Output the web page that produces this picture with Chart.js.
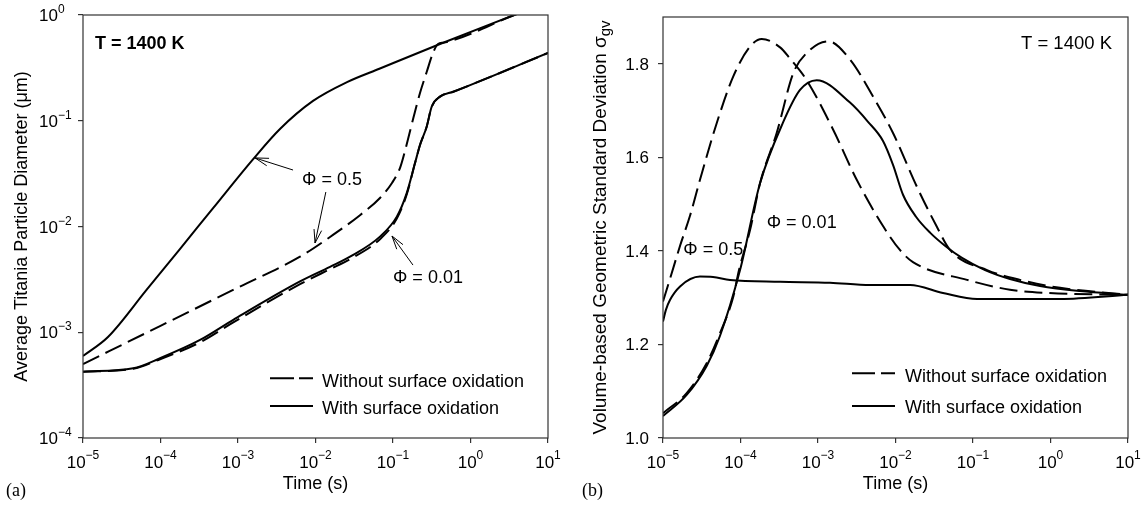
<!DOCTYPE html>
<html><head><meta charset="utf-8">
<script src="https://cdn.jsdelivr.net/npm/chart.js@4.4.0/dist/chart.umd.min.js"></script>
<style>
html,body{margin:0;padding:0;background:#fff;}
#wrap{position:relative;width:1147px;height:508px;overflow:hidden;}
.box{position:absolute;top:0;height:508px;}
#boxA{left:0;width:574px;}
#boxB{left:574px;width:573px;}
canvas{display:block;}
</style></head><body>
<div id="wrap">
<div class="box" id="boxA"><canvas id="cA" width="574" height="508" style="width:574px;height:508px"></canvas></div>
<div class="box" id="boxB"><canvas id="cB" width="573" height="508" style="width:573px;height:508px"></canvas></div>
</div>
<script>
// ---------- tick labels ----------
const timeTicks = [1e-5, 1e-4, 1e-3, 1e-2, 1e-1, 1, 10];
const timeTickExps = ['\u22125','\u22124','\u22123','\u22122','\u22121','0','1'];
const diamTicks = [1e-4, 1e-3, 1e-2, 1e-1, 1];
const diamTickExps = ['\u22124','\u22123','\u22122','\u22121','0'];
const sigmaTicks = [1.0, 1.2, 1.4, 1.6, 1.8];
const sigmaTickLabels = ['1.0','1.2','1.4','1.6','1.8'];

// ---------- (a) average particle diameter (um) vs time (s) ----------
// with surface oxidation, phi = 0.5
const tA_w05 = [1e-5, 2.10e-5, 6.64e-5, 1.79e-4, 4.80e-4, 1.57e-3, 3.48e-3, 9.29e-3, 2.55e-2, 6.79e-2, 0.404, 3.53, 10];
const dA_w05 = [5.96e-4, 9.02e-4, 2.53e-3, 6.15e-3, 1.50e-2, 4.34e-2, 8.36e-2, 0.154, 0.232, 0.312, 0.532, 0.989, 1.33];
// without surface oxidation, phi = 0.5
const tA_wo05 = [1e-5, 1e-4, 1e-3, 6.31e-3, 1.54e-2, 3.75e-2, 6.79e-2, 9.70e-2, 0.123, 0.146, 0.183, 0.223, 0.272, 0.328, 0.381, 0.451, 3.53, 10];
const dA_wo05 = [5.0e-4, 1.15e-3, 2.65e-3, 5.18e-3, 7.96e-3, 1.28e-2, 1.86e-2, 2.58e-2, 3.57e-2, 5.52e-2, 0.106, 0.183, 0.289, 0.437, 0.532, 0.548, 0.989, 1.33];
// with surface oxidation, phi = 0.01
const tA_w001 = [1e-5, 4.45e-5, 9.86e-5, 3.24e-4, 8.69e-4, 6.31e-3, 1.54e-2, 2.79e-2, 6.79e-2, 0.112, 0.150, 0.192, 0.223, 0.272, 0.316, 0.404, 0.600, 10];
const dA_w001 = [4.24e-4, 4.56e-4, 5.68e-4, 8.45e-4, 1.31e-3, 3.02e-3, 4.15e-3, 5.18e-3, 8.02e-3, 1.24e-2, 2.06e-2, 3.96e-2, 5.90e-2, 8.79e-2, 0.136, 0.169, 0.188, 0.437];
// without surface oxidation, phi = 0.01
const tA_wo001 = [1e-5, 4.45e-5, 9.86e-5, 3.24e-4, 8.69e-4, 6.31e-3, 1.54e-2, 2.79e-2, 6.79e-2, 0.112, 0.150, 0.192, 0.223, 0.272, 0.316, 0.404, 0.600, 10];
const dA_wo001 = [4.24e-4, 4.52e-4, 5.56e-4, 8.04e-4, 1.24e-3, 2.85e-3, 3.95e-3, 4.90e-3, 7.59e-3, 1.19e-2, 2.00e-2, 3.96e-2, 5.90e-2, 8.79e-2, 0.136, 0.169, 0.188, 0.437];

// ---------- (b) volume-based geometric standard deviation vs time (s) ----------
const tB_wo05 = [1e-5, 1.23e-5, 1.66e-5, 2.23e-5, 3.00e-5, 4.93e-5, 8.07e-5, 1.33e-4, 1.88e-4, 3.24e-4, 4.36e-4, 7.14e-4, 1.57e-3, 3.16e-3, 6.97e-3, 1.14e-2, 1.68e-2, 8.38e-2, 0.300, 0.902, 10];
const sB_wo05 = [1.292, 1.340, 1.411, 1.475, 1.552, 1.673, 1.773, 1.837, 1.853, 1.835, 1.811, 1.765, 1.659, 1.552, 1.452, 1.402, 1.376, 1.338, 1.317, 1.310, 1.306];
const tB_wo001 = [1e-5, 2.02e-5, 3.66e-5, 5.43e-5, 8.07e-5, 9.57e-5, 1.33e-4, 1.79e-4, 2.93e-4, 4.80e-4, 7.14e-4, 1.36e-3, 2.59e-3, 5.13e-3, 9.29e-3, 1.89e-2, 3.43e-2, 5.05e-2, 0.152, 0.404, 1.33, 10];
const sB_wo001 = [1.053, 1.096, 1.160, 1.224, 1.302, 1.359, 1.445, 1.545, 1.652, 1.780, 1.823, 1.848, 1.809, 1.730, 1.652, 1.537, 1.451, 1.402, 1.359, 1.338, 1.321, 1.306];
const tB_w001 = [1e-5, 2.02e-5, 3.66e-5, 5.43e-5, 9.86e-5, 1.79e-4, 3.53e-4, 5.86e-4, 9.62e-4, 2.59e-3, 4.42e-3, 6.90e-3, 9.29e-3, 1.25e-2, 1.84e-2, 2.79e-2, 4.35e-2, 7.21e-2, 0.143, 0.300, 0.733, 2.40, 10];
const sB_w001 = [1.047, 1.092, 1.154, 1.218, 1.359, 1.545, 1.674, 1.744, 1.765, 1.717, 1.676, 1.635, 1.584, 1.520, 1.473, 1.439, 1.411, 1.385, 1.359, 1.340, 1.325, 1.314, 1.306];
const tB_w05 = [1e-5, 1.09e-5, 1.23e-5, 1.66e-5, 3.00e-5, 4.42e-5, 7.33e-5, 3.24e-4, 1.43e-3, 4.69e-3, 1.54e-2, 4.10e-2, 0.113, 1.33, 10];
const sB_w05 = [1.249, 1.274, 1.295, 1.324, 1.345, 1.344, 1.338, 1.334, 1.332, 1.327, 1.327, 1.310, 1.297, 1.297, 1.306];

const legendLabels = ['Without surface oxidation', 'With surface oxidation'];

// ---------- helpers ----------
const SANS = '"Liberation Sans", Arial, Helvetica, sans-serif';
const SERIF = '"Liberation Serif", "Times New Roman", serif';
const F = (s, w) => (w ? w + ' ' : '') + s + 'px ' + SANS;
const DASH = [18, 7];

function pts(t, v) { return t.map((x, i) => ({ x: x, y: v[i] })); }
function ds(label, t, v, dashed) {
  return { label, data: pts(t, v), borderColor: '#000', borderWidth: 2,
    borderDash: dashed ? DASH : [], pointRadius: 0, pointHoverRadius: 0,
    cubicInterpolationMode: 'monotone', fill: false };
}
function drawPow(ctx, base, exp, x, y, align, bf, ef, rise) {
  ctx.font = bf; const wb = ctx.measureText(base).width;
  ctx.font = ef; const we = ctx.measureText(exp).width;
  const tot = wb + we;
  const x0 = align === 'center' ? x - tot / 2 : (align === 'right' ? x - tot : x);
  ctx.textAlign = 'left'; ctx.textBaseline = 'alphabetic';
  ctx.font = bf; ctx.fillText(base, x0, y);
  ctx.font = ef; ctx.fillText(exp, x0 + wb, y - rise);
}
function arrow(ctx, x1, y1, x2, y2) {
  ctx.beginPath(); ctx.moveTo(x1, y1); ctx.lineTo(x2, y2); ctx.stroke();
  const a = Math.atan2(y1 - y2, x1 - x2), L = 14, h = 0.28;
  ctx.beginPath();
  ctx.moveTo(x2 + L * Math.cos(a + h), y2 + L * Math.sin(a + h));
  ctx.lineTo(x2, y2);
  ctx.lineTo(x2 + L * Math.cos(a - h), y2 + L * Math.sin(a - h));
  ctx.stroke();
}
function legend(ctx, x1, x2, yDash, ySolid, tx, b1, b2, dash) {
  ctx.save();
  ctx.strokeStyle = '#000'; ctx.lineWidth = 2;
  ctx.setLineDash(dash);
  ctx.beginPath(); ctx.moveTo(x1, yDash); ctx.lineTo(x2, yDash); ctx.stroke();
  ctx.setLineDash([]);
  ctx.beginPath(); ctx.moveTo(x1, ySolid); ctx.lineTo(x2, ySolid); ctx.stroke();
  ctx.fillStyle = '#000'; ctx.font = F(18); ctx.textAlign = 'left'; ctx.textBaseline = 'alphabetic';
  ctx.fillText(legendLabels[0], tx, b1);
  ctx.fillText(legendLabels[1], tx, b2);
  ctx.restore();
}
function frame(ctx, a) {
  ctx.save(); ctx.strokeStyle = '#333'; ctx.lineWidth = 1.2; ctx.setLineDash([]);
  ctx.strokeRect(a.left, a.top, a.right - a.left, a.bottom - a.top);
  ctx.restore();
}
const tickOpts = { display: true, callback: () => '', font: { size: 1 }, padding: 0, autoSkip: false, maxRotation: 0 };
const gridOpts = { display: true, drawOnChartArea: false, drawTicks: true, tickLength: 5, color: '#333', lineWidth: 1.2 };

// ---------- chart (a) ----------
const decoA = {
  id: 'decoA',
  afterDraw(chart) {
    const { ctx, chartArea: a, scales: { x, y } } = chart;
    frame(ctx, a);
    ctx.save();
    ctx.fillStyle = '#000'; ctx.strokeStyle = '#000';
    timeTicks.forEach((v, i) => drawPow(ctx, '10', timeTickExps[i], x.getPixelForValue(v), 468, 'center', F(17), F(12), 9));
    diamTicks.forEach((v, i) => drawPow(ctx, '10', diamTickExps[i], 39, y.getPixelForValue(v) + 6, 'left', F(17), F(12), 8));
    // axis titles
    ctx.font = F(18); ctx.textAlign = 'center'; ctx.textBaseline = 'alphabetic';
    ctx.fillText('Time (s)', (a.left + a.right) / 2, 489);
    ctx.save(); ctx.translate(26.5, (a.top + a.bottom) / 2); ctx.rotate(-Math.PI / 2);
    ctx.fillText('Average Titania Particle Diameter (\u03bcm)', 0, 0); ctx.restore();
    // panel tag
    ctx.font = '18px ' + SERIF; ctx.textAlign = 'left'; ctx.fillText('(a)', 6, 496);
    // temperature
    ctx.font = F(18, 'bold'); ctx.fillText('T = 1400 K', a.left + 12, a.top + 33.5);
    // annotations
    ctx.font = F(18);
    ctx.fillText('\u03a6 = 0.5', x.getPixelForValue(6.70e-3), y.getPixelForValue(2.49e-2));
    ctx.fillText('\u03a6 = 0.01', x.getPixelForValue(0.1), y.getPixelForValue(2.92e-3));
    ctx.lineWidth = 1;
    arrow(ctx, x.getPixelForValue(5.13e-3), y.getPixelForValue(3.42e-2), x.getPixelForValue(1.66e-3), y.getPixelForValue(4.45e-2));
    arrow(ctx, x.getPixelForValue(1.36e-2), y.getPixelForValue(2.12e-2), x.getPixelForValue(9.86e-3), y.getPixelForValue(6.98e-3));
    arrow(ctx, x.getPixelForValue(0.181), y.getPixelForValue(4.32e-3), x.getPixelForValue(9.70e-2), y.getPixelForValue(8.13e-3));
    ctx.restore();
    legend(ctx, 270, 313, 378.3, 406, 322, 386.7, 414.3, [24, 5]);
  }
};

new Chart(document.getElementById('cA'), {
  type: 'line',
  data: { datasets: [
    ds('Without surface oxidation, \u03a6 = 0.5', tA_wo05, dA_wo05, true),
    ds('Without surface oxidation, \u03a6 = 0.01', tA_wo001, dA_wo001, true),
    ds('With surface oxidation, \u03a6 = 0.5', tA_w05, dA_w05, false),
    ds('With surface oxidation, \u03a6 = 0.01', tA_w001, dA_w001, false)
  ] },
  options: {
    responsive: false, animation: false, devicePixelRatio: 1,
    layout: { padding: { top: 15, right: 26, left: 0, bottom: 0 } },
    plugins: { legend: { display: false }, tooltip: { enabled: false } },
    events: [],
    scales: {
      x: { type: 'logarithmic', min: 1e-5, max: 10,
        afterBuildTicks: s => { s.ticks = timeTicks.map(v => ({ value: v })); },
        afterFit: s => { s.height = 70; },
        ticks: tickOpts, grid: gridOpts, border: { display: false } },
      y: { type: 'logarithmic', min: 1e-4, max: 1,
        afterBuildTicks: s => { s.ticks = diamTicks.map(v => ({ value: v })); },
        afterFit: s => { s.width = 83; },
        ticks: tickOpts, grid: gridOpts, border: { display: false } }
    }
  },
  plugins: [decoA]
});

// ---------- chart (b) ----------
const decoB = {
  id: 'decoB',
  afterDraw(chart) {
    const { ctx, chartArea: a, scales: { x, y } } = chart;
    frame(ctx, a);
    ctx.save();
    ctx.fillStyle = '#000';
    timeTicks.forEach((v, i) => drawPow(ctx, '10', timeTickExps[i], x.getPixelForValue(v), 468, 'center', F(17), F(12), 9));
    ctx.font = F(17); ctx.textAlign = 'right'; ctx.textBaseline = 'alphabetic';
    sigmaTicks.forEach((v, i) => ctx.fillText(sigmaTickLabels[i], 75, y.getPixelForValue(v) + 6));
    // titles
    ctx.font = F(18); ctx.textAlign = 'center';
    ctx.fillText('Time (s)', (a.left + a.right) / 2, 489);
    ctx.save(); ctx.translate(31.5, (a.top + a.bottom) / 2); ctx.rotate(-Math.PI / 2);
    const main = 'Volume-based Geometric Standard Deviation \u03c3', sub = 'gv';
    ctx.font = F(19); const wm = ctx.measureText(main).width;
    ctx.font = F(15); const ws = ctx.measureText(sub).width;
    const x0 = -(wm + ws) / 2;
    ctx.textAlign = 'left';
    ctx.font = F(19); ctx.fillText(main, x0, 0);
    ctx.font = F(15); ctx.fillText(sub, x0 + wm, 4);
    ctx.restore();
    ctx.font = '18px ' + SERIF; ctx.textAlign = 'left'; ctx.fillText('(b)', 8, 496);
    ctx.font = F(18.5); ctx.textAlign = 'right'; ctx.fillText('T = 1400 K', a.right - 16, a.top + 31.5);
    ctx.font = F(18); ctx.textAlign = 'left';
    ctx.fillText('\u03a6 = 0.01', x.getPixelForValue(2.18e-4), y.getPixelForValue(1.449));
    ctx.fillText('\u03a6 = 0.5', x.getPixelForValue(1.83e-5), y.getPixelForValue(1.391));
    ctx.restore();
    legend(ctx, 278, 321, 373.3, 406, 331, 381.7, 413.3, [23, 6]);
  }
};

new Chart(document.getElementById('cB'), {
  type: 'line',
  data: { datasets: [
    ds('Without surface oxidation, \u03a6 = 0.5', tB_wo05, sB_wo05, true),
    ds('Without surface oxidation, \u03a6 = 0.01', tB_wo001, sB_wo001, true),
    ds('With surface oxidation, \u03a6 = 0.5', tB_w05, sB_w05, false),
    ds('With surface oxidation, \u03a6 = 0.01', tB_w001, sB_w001, false)
  ] },
  options: {
    responsive: false, animation: false, devicePixelRatio: 1,
    layout: { padding: { top: 17, right: 19, left: 0, bottom: 0 } },
    plugins: { legend: { display: false }, tooltip: { enabled: false } },
    events: [],
    scales: {
      x: { type: 'logarithmic', min: 1e-5, max: 10,
        afterBuildTicks: s => { s.ticks = timeTicks.map(v => ({ value: v })); },
        afterFit: s => { s.height = 70; },
        ticks: tickOpts, grid: gridOpts, border: { display: false } },
      y: { type: 'linear', min: 1.0, max: 1.9,
        afterBuildTicks: s => { s.ticks = sigmaTicks.map(v => ({ value: v })); },
        afterFit: s => { s.width = 89; },
        ticks: tickOpts, grid: gridOpts, border: { display: false } }
    }
  },
  plugins: [decoB]
});
</script>
</body></html>
